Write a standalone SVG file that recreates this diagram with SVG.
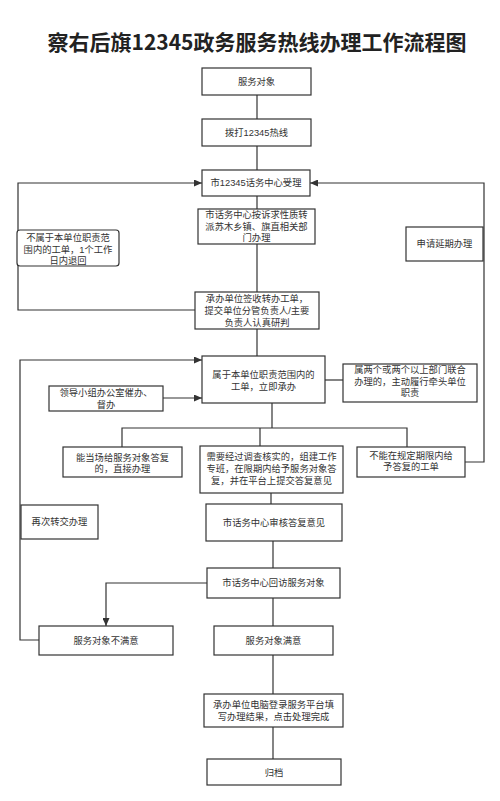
<svg xmlns="http://www.w3.org/2000/svg" width="500" height="801" viewBox="0 0 500 801">
<defs>
<marker id="arr" markerUnits="userSpaceOnUse" markerWidth="8" markerHeight="7" refX="8" refY="3.5" orient="auto">
<path d="M0,0 L8,3.5 L0,7 z" fill="#333"/>
</marker>
<style>
.n rect{fill:#fff;stroke:#333;stroke-width:1.2}
.n text{font-family:"Liberation Sans","Noto Sans CJK SC",sans-serif;font-size:9.3px;fill:#333;text-anchor:middle;dominant-baseline:central}
#edges path{fill:none;stroke:#333;stroke-width:1.2}
.title{font-family:"Noto Sans CJK SC",sans-serif;font-weight:bold;font-size:21px;fill:#222;text-anchor:middle;dominant-baseline:central}
</style>
</defs>
<rect width="500" height="801" fill="#fff"/>
<text class="title" x="257" y="41">察右后旗12345政务服务热线办理工作流程图</text>
<g id="edges">
<path d="M257,95 V119"/>
<path d="M257,146 V170"/>
<path d="M257,196 V209"/>
<path d="M257,244 V292"/>
<path d="M257,329 V356"/>
<path d="M195,310 H18 V183 H202" marker-end="url(#arr)"/>
<path d="M465,462 H484 V183 H310" marker-end="url(#arr)"/>
<path d="M39,640 H20 V360 H202" marker-end="url(#arr)"/>
<path d="M163,398 H202" marker-end="url(#arr)"/>
<path d="M325,380 H343"/>
<path d="M272,403 V428"/>
<path d="M122,447 V428 H407 V447"/>
<path d="M260,428 V446"/>
<path d="M271,493 V504"/>
<path d="M273,541 V568"/>
<path d="M207,583 H106 V626" marker-end="url(#arr)"/>
<path d="M273,598 V626"/>
<path d="M273,655 V694"/>
<path d="M273,727 V759"/>
</g>
<g id="n1" class="n"><rect x="202" y="68" width="109" height="27"/><text x="256.5" y="82">服务对象</text></g>
<g id="n2" class="n"><rect x="202" y="119" width="109" height="27"/><text x="256.5" y="133">拨打12345热线</text></g>
<g id="n3" class="n"><rect x="202" y="170" width="108" height="26"/><text x="256" y="183">市12345话务中心受理</text></g>
<g id="n4" class="n"><rect x="198" y="209" width="117" height="35"/><text x="256.5" y="215">市话务中心按诉求性质转</text><text x="256.5" y="227">派苏木乡镇、旗直相关部</text><text x="256.5" y="238">门办理</text></g>
<g id="n_return" class="n"><rect x="17" y="230" width="102" height="36" rx="3"/><text x="68" y="238">不属于本单位职责范</text><text x="68" y="250">围内的工单，1个工作</text><text x="68" y="261">日内退回</text></g>
<g id="n_delay" class="n"><rect x="406" y="227" width="77" height="34"/><text x="444.5" y="244">申请延期办理</text></g>
<g id="n5" class="n"><rect x="195" y="292" width="124" height="37"/><text x="257" y="299">承办单位签收转办工单，</text><text x="257" y="311">提交单位分管负责人/主要</text><text x="257" y="323">负责人认真研判</text></g>
<g id="n6" class="n"><rect x="202" y="356" width="123" height="47"/><text x="263.5" y="375">属于本单位职责范围内的</text><text x="263.5" y="387">工单，立即承办</text></g>
<g id="n_lead" class="n"><rect x="49" y="386" width="114" height="25"/><text x="106" y="393">领导小组办公室催办、</text><text x="106" y="405">督办</text></g>
<g id="n_joint" class="n"><rect x="343" y="364" width="134" height="38"/><text x="410" y="370">属两个或两个以上部门联合</text><text x="410" y="382">办理的，主动履行牵头单位</text><text x="410" y="393">职责</text></g>
<g id="n_direct" class="n"><rect x="63" y="447" width="119" height="30"/><text x="122.5" y="458">能当场给服务对象答复</text><text x="122.5" y="469">的，直接办理</text></g>
<g id="n_investigate" class="n"><rect x="200" y="446" width="143" height="47"/><text x="271.5" y="457">需要经过调查核实的，组建工作</text><text x="271.5" y="469">专班，在限期内给予服务对象答</text><text x="271.5" y="481">复，并在平台上提交答复意见</text></g>
<g id="n_overdue" class="n"><rect x="357" y="447" width="108" height="30"/><text x="411" y="456">不能在规定期限内给</text><text x="411" y="467">予答复的工单</text></g>
<g id="n_retransfer" class="n"><rect x="21" y="505" width="77" height="34"/><text x="59.5" y="522">再次转交办理</text></g>
<g id="n7" class="n"><rect x="206" y="504" width="136" height="37"/><text x="274" y="523">市话务中心审核答复意见</text></g>
<g id="n8" class="n"><rect x="207" y="568" width="133" height="30"/><text x="273.5" y="583">市话务中心回访服务对象</text></g>
<g id="n_unsat" class="n"><rect x="39" y="626" width="134" height="29"/><text x="106" y="641">服务对象不满意</text></g>
<g id="n_sat" class="n"><rect x="214" y="626" width="119" height="29"/><text x="273.5" y="641">服务对象满意</text></g>
<g id="n9" class="n"><rect x="204" y="694" width="139" height="33"/><text x="273.5" y="705">承办单位电脑登录服务平台填</text><text x="273.5" y="717">写办理结果，点击处理完成</text></g>
<g id="n10" class="n"><rect x="207" y="759" width="134" height="26"/><text x="274" y="773">归档</text></g>
</svg>
